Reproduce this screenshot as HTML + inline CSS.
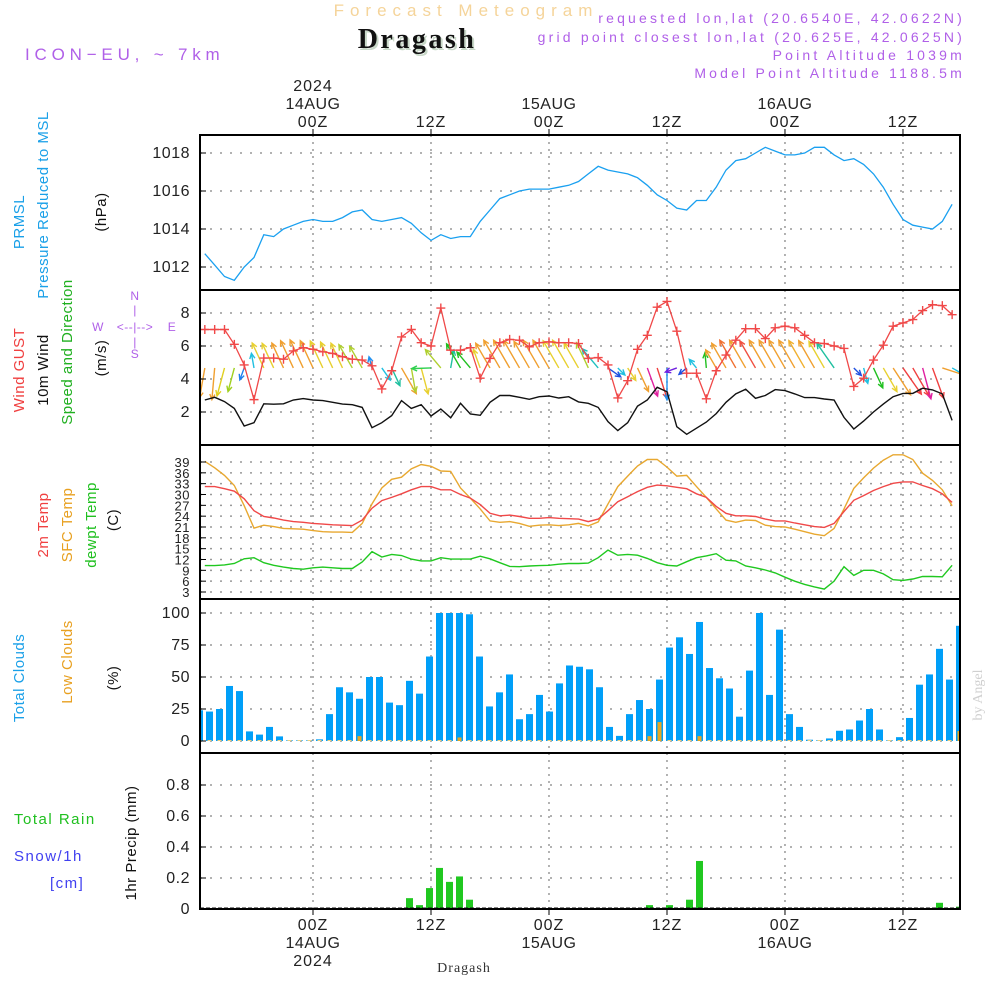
<!DOCTYPE html>
<html><head><meta charset="utf-8"><title>Meteogram Dragash</title>
<style>
html,body{margin:0;padding:0;background:#fff;}
svg{display:block;font-family:"Liberation Sans",sans-serif;}
</style></head>
<body>
<svg id="chart" xmlns="http://www.w3.org/2000/svg" width="1000" height="1000" viewBox="0 0 1000 1000">
<defs>
<clipPath id="c1"><rect x="200" y="135" width="760" height="155"/></clipPath>
<clipPath id="c2"><rect x="200" y="291" width="760" height="154"/></clipPath>
<clipPath id="c3"><rect x="200" y="446" width="760" height="153"/></clipPath>
<clipPath id="c4"><rect x="200" y="600" width="760" height="153"/></clipPath>
<clipPath id="c5"><rect x="200" y="754" width="760" height="155"/></clipPath>
</defs>
<g>
<text x="466" y="16" text-anchor="middle" font-size="17" letter-spacing="6" fill="#f5d49a">Forecast Meteogram</text>
<text x="419" y="50" text-anchor="middle" font-family="Liberation Serif,serif" font-weight="bold" font-size="28" letter-spacing="2.5" fill="#c8d8c8">Dragash</text>
<text x="417" y="48" text-anchor="middle" font-family="Liberation Serif,serif" font-weight="bold" font-size="28" letter-spacing="2.5" fill="#111">Dragash</text>
<text x="25" y="60" font-size="17" letter-spacing="4.8" fill="#b060e8">ICON−EU, ~ 7km</text>
<g font-size="14" letter-spacing="3.2" fill="#b060e8" text-anchor="end">
<text x="965" y="23">requested lon,lat (20.6540E, 42.0622N)</text>
<text x="965" y="42">grid point closest lon,lat (20.625E, 42.0625N)</text>
<text x="965" y="60">Point Altitude 1039m</text>
<text x="965" y="78">Model Point Altitude 1188.5m</text>
</g>
</g>
<g id="grid"></g>
<g id="series"></g>
<g id="axes"></g>
<g font-size="15" letter-spacing="0.5">
<text transform="translate(24,222) rotate(-90)" text-anchor="middle" fill="#1aa0e8">PRMSL</text>
<text transform="translate(48,205) rotate(-90)" text-anchor="middle" fill="#1aa0e8">Pressure Reduced to MSL</text>
<text transform="translate(106,212) rotate(-90)" text-anchor="middle" fill="#111">(hPa)</text>
<text transform="translate(24,370) rotate(-90)" text-anchor="middle" fill="#f04040">Wind GUST</text>
<text transform="translate(48,370) rotate(-90)" text-anchor="middle" fill="#111">10m Wind</text>
<text transform="translate(72,352) rotate(-90)" text-anchor="middle" fill="#20b020">Speed and Direction</text>
<text transform="translate(106,358) rotate(-90)" text-anchor="middle" fill="#111">(m/s)</text>
<g fill="#b060e8" font-size="12">
<text x="135" y="300" text-anchor="middle">N</text>
<text x="135" y="314" text-anchor="middle">|</text>
<text x="98" y="331" text-anchor="middle">W</text>
<text x="135" y="331" text-anchor="middle">&lt;--|--&gt;</text>
<text x="172" y="331" text-anchor="middle">E</text>
<text x="135" y="346" text-anchor="middle">|</text>
<text x="135" y="358" text-anchor="middle">S</text>
</g>
<text transform="translate(48,525) rotate(-90)" text-anchor="middle" fill="#f04040">2m Temp</text>
<text transform="translate(72,525) rotate(-90)" text-anchor="middle" fill="#e8a020">SFC Temp</text>
<text transform="translate(96,525) rotate(-90)" text-anchor="middle" fill="#20c020">dewpt Temp</text>
<text transform="translate(118,520) rotate(-90)" text-anchor="middle" fill="#111">(C)</text>
<text transform="translate(24,678) rotate(-90)" text-anchor="middle" fill="#1aa0e8">Total Clouds</text>
<text transform="translate(72,662) rotate(-90)" text-anchor="middle" fill="#e8a020">Low Clouds</text>
<text transform="translate(118,678) rotate(-90)" text-anchor="middle" fill="#111">(%)</text>
<text x="14" y="824" fill="#20c020" letter-spacing="1.5">Total  Rain</text>
<text x="14" y="861" fill="#4040f0" letter-spacing="1.5">Snow/1h</text>
<text x="50" y="888" fill="#4040f0" letter-spacing="1.5">[cm]</text>
<text transform="translate(136,843) rotate(-90)" text-anchor="middle" fill="#111">1hr Precip (mm)</text>
</g>
<text transform="translate(982,695) rotate(-90)" text-anchor="middle" font-family="Liberation Serif,serif" font-size="14" fill="#d0d0d0">by Angel</text>
<text x="464" y="972" text-anchor="middle" font-family="Liberation Serif,serif" font-size="14" letter-spacing="1" fill="#333">Dragash</text>
</svg>
<script>
const pressure=[1012.7,1012.1,1011.5,1011.3,1012,1012.5,1013.7,1013.6,1014.0,1014.2,1014.4,1014.5,1014.4,1014.4,1014.6,1014.9,1015.0,1014.5,1014.4,1014.5,1014.6,1014.3,1013.8,1013.4,1013.7,1013.5,1013.6,1013.6,1014.4,1015.0,1015.6,1015.8,1016.0,1016.1,1016.1,1016.1,1016.2,1016.3,1016.5,1016.9,1017.3,1017.1,1017.0,1016.9,1016.7,1016.3,1015.8,1015.5,1015.1,1015.0,1015.5,1015.5,1016.2,1017.1,1017.6,1017.7,1018.0,1018.3,1018.1,1017.9,1017.9,1018.0,1018.3,1018.3,1017.9,1017.6,1017.7,1017.4,1016.9,1016.2,1015.3,1014.5,1014.2,1014.1,1014.0,1014.4,1015.3];
const gust=[7.0,7.0,7.0,6.1,4.85,2.75,5.27,5.27,5.2,5.7,5.9,5.8,5.65,5.55,5.35,5.2,5.15,4.8,3.4,4.5,6.55,7.0,6.2,6.0,8.3,5.75,5.75,5.9,4.05,5.25,6.2,6.4,6.35,5.95,6.2,6.25,6.2,6.2,6.15,5.25,5.3,4.85,2.85,3.9,5.8,6.65,8.35,8.7,6.9,4.35,4.35,2.8,4.5,5.45,6.35,7.05,7.05,6.45,7.1,7.2,7.1,6.65,6.2,6.15,6.0,5.85,3.55,4.05,5.15,6.05,7.2,7.4,7.6,8.15,8.5,8.45,7.9];
const wind10=[2.73,2.89,2.63,2.22,1.15,1.35,2.5,2.47,2.5,2.73,2.81,2.73,2.69,2.59,2.48,2.44,2.28,1.05,1.35,1.78,2.69,2.22,2.44,1.76,2.18,1.65,2.53,1.88,1.8,2.59,3.0,3.0,2.89,2.77,2.93,2.97,2.85,2.93,2.61,2.53,2.28,1.41,0.87,1.35,2.36,2.73,3.5,3.23,1.11,0.65,1.02,1.39,1.9,2.59,3.1,3.38,2.83,3.0,3.36,3.3,3.1,2.87,2.87,2.79,2.73,1.67,0.97,1.45,2.0,2.48,2.93,3.13,3.13,3.44,3.34,3.1,1.49];
const windDir=[190,185,195,195,200,350,335,335,335,335,335,335,335,335,335,330,330,345,145,155,150,170,165,268,320,10,330,320,340,330,330,330,330,330,330,330,330,330,330,335,320,125,135,147,155,160,162,180,250,230,320,355,330,330,330,330,330,330,330,330,330,330,330,330,325,320,135,165,155,150,147,145,150,165,160,108,120];
const windCol=["#f0a030","#f0a030","#e0d020","#a0d020","#2080f0","#20c0e0","#e8d030","#e8d030","#f0a030","#f0a030","#f0a030","#f0a030","#e8d030","#e8d030","#e8d030","#b0d030","#b0d030","#2090f0","#20c0e0","#20c0a0","#f0a030","#b0d030","#e8d030","#30d050","#b0d030","#20c0a0","#20c020","#20c020","#e8d030","#f0a030","#f0a030","#f0a030","#f0a030","#f0a030","#f0a030","#f0a030","#e8d030","#e8d030","#e8d030","#b0d030","#20c0c0","#2050e0","#20c0e0","#e8d030","#f0a030","#e020a0","#f04040","#2090f0","#7020e0","#2050e0","#20c0e0","#20c020","#f0a030","#f0a030","#f07030","#f0a030","#f05040","#f0a030","#f0a030","#f0a030","#f0a030","#f0b030","#f0a030","#e8d030","#20c0a0","none","#2050e0","#20c0e0","#20c020","#e8d030","#f0a030","#f04040","#f04040","#e020a0","#f04040","#f0a030","#20c0e0"];
const t2m=[32.2,32.2,31.6,30.9,28.8,25.5,23.9,23.5,22.9,22.5,22.3,22.0,21.8,21.6,21.5,21.4,22.9,26.2,28.3,29.2,30.2,31.3,32.2,32.2,31.3,31.3,30.0,29.0,27.2,24.8,24.1,24.3,23.9,23.4,23.4,23.6,23.4,23.3,23.2,22.5,23.2,25.5,28.0,29.4,30.8,32.0,32.6,32.4,32.0,31.6,30.2,29.2,26.7,24.8,24.1,24.1,23.9,23.2,22.7,22.7,22.1,21.6,21.1,20.9,22.0,25.3,28.4,29.7,31.1,32.2,33.1,33.5,33.5,32.5,31.6,30.2,27.8];
const tsfc=[39.2,37.4,35.3,32.5,26.9,20.7,21.5,21.1,20.6,20.5,20.4,20.0,19.7,19.6,19.6,19.5,22.0,27.4,31.8,34.2,34.8,37.1,38.3,37.8,36.5,36.4,31.8,29.0,26.0,22.7,22.3,22.5,22.0,21.2,21.5,21.6,21.4,21.6,22.0,21.3,22.4,27.4,32.2,35.1,37.9,39.7,39.7,37.6,35.1,35.3,32.2,29.2,26.0,22.9,22.3,22.9,22.8,21.5,21.1,21.0,20.4,19.7,19.0,18.6,20.6,26.0,31.7,34.6,37.3,39.5,41.0,41.0,39.7,35.9,33.9,31.3,26.9];
const dewpt=[10.3,10.3,10.5,10.9,12.2,12.5,11.1,10.4,9.9,9.5,9.3,9.7,9.9,9.7,9.5,9.5,11.3,14.2,12.7,13.4,13.1,12.1,11.6,11.6,12.5,12.1,12.1,12.1,12.9,12.2,11.1,10.1,10.0,10.2,10.3,10.4,10.7,10.9,10.9,11.0,12.5,14.6,13.2,13.4,13.2,12.3,11.1,10.4,10.2,11.4,12.5,13.0,13.6,11.8,11.6,10.2,9.7,9.1,8.3,7.1,6.0,5.1,4.4,3.8,6.0,10.0,7.6,9.0,9.0,8.0,6.4,6.2,6.6,7.3,7.3,7.2,10.4];
const totalClouds=[24,23,25,43,39,7.5,5,11,3.6,0.5,0.5,0.5,1.3,21,42,38,33,50,50,30,28,47,37,66,100,100,100,99,66,27,38,52,17,21,36,23,45,59,58,56,42,11,4,21,32,25,48,73,81,68,93,57,49,41,19,55,100,36,87,21,11,1,0.5,2,8,9,16,25,9,0.5,3,18,44,52,72,48,90];
const lowClouds=[0,0,0,0,0,0,0,0,0,0,0,0,0,0,0,0,3,0,0,0,0,0,0,0,0,0,2,0,0,0,0,0,0,0,0,0,0,0,0,0,0,0,0,0,0,3,14,0,0,0,3,0,0,0,0,0,0,0,0,0,0,0,0,0,0,0,0,0,0,0,0,0,0,0,0,0,7];
const precip=[0,0,0,0,0,0,0,0,0,0,0,0,0,0,0,0,0,0,0,0,0,0.07,0.025,0.135,0.265,0.175,0.21,0.06,0,0,0,0,0,0,0,0,0,0,0,0,0,0,0,0,0,0.025,0,0.025,0,0.06,0.31,0,0,0,0,0,0,0,0,0,0,0,0,0,0,0,0,0,0,0,0,0,0,0,0.04,0,0.015];
const pTicks=[1012,1014,1016,1018];
const wTicks=[2,4,6,8];
const tTicks=[3,6,9,12,15,18,21,24,27,30,33,36,39];
const cTicks=[0,25,50,75,100];
const rTicks=[0,0.2,0.4,0.6,0.8];
const timeTicks=[0,12,24,36,48,60];
const timeLabels=["00Z","12Z","00Z","12Z","00Z","12Z"];
const dayLabels=["14AUG","","15AUG","","16AUG",""];

const NS="http://www.w3.org/2000/svg";
const svg=document.getElementById('chart');
const G=document.getElementById('grid'),S=document.getElementById('series'),A=document.getElementById('axes');
function el(tag,attrs,parent){const e=document.createElementNS(NS,tag);for(const k in attrs)e.setAttribute(k,attrs[k]);(parent||svg).appendChild(e);return e;}
function xT(i){return 313+(i-11)*9.833;}
function xTick(h){return 313+h*9.833;}
function xBar(j){return 199.5+10*j;}
function yP(v){return 153+(1018-v)*19;}
function yW(v){return 445-v*16.5;}
function yT(v){return 462+(39-v)*3.611;}
function yC(v){return 741-v*1.28;}
function yR(v){return 909-v*155;}
const panels=[[135,290],[290,445],[445,599],[599,753],[753,909]];

panels.forEach((p,k)=>{
  timeTicks.forEach(h=>{
    const g=el('line',{x1:xTick(h),x2:xTick(h),y1:p[0],y2:p[1],stroke:'#999','stroke-width':1.5,'stroke-dasharray':'2,5'},G);
    
    
  });
});
function hgrid(ticks,yf,lblName,fmt,fs){
  ticks.forEach(t=>{
    const g=el('line',{x1:200,x2:960,y1:yf(t),y2:yf(t),stroke:'#999','stroke-width':1.5,'stroke-dasharray':'2,8'},G);
    
    
    const l=el('text',{x:190,y:yf(t)+5,'text-anchor':'end','font-size':fs,fill:'#222','letter-spacing':'0.5'},A);
    l.textContent=fmt(t);
    
    
    const tk=el('line',{x1:200,x2:206,y1:yf(t),y2:yf(t),stroke:'#000','stroke-width':1},A);
    
    
  });
}
hgrid(pTicks,yP,'pressure-tick-label',t=>t,16);
hgrid(wTicks,yW,'wind-tick-label',t=>t,16);
hgrid(tTicks,yT,'temp-tick-label',t=>t,13);
hgrid(cTicks,yC,'cloud-tick-label',t=>t,16);
hgrid(rTicks,yR,'precip-tick-label',t=>t,16);

let d=pressure.map((v,i)=>(i?'L':'M')+xT(i).toFixed(1)+','+yP(v).toFixed(1)).join('');
let e=el('path',{d:d,fill:'none',stroke:'#1aa0f0','stroke-width':1.3,'clip-path':'url(#c1)'},S);



const wg=el('g',{'clip-path':'url(#c2)'},S);
windDir.forEach((a,i)=>{
  if(windCol[i]==='none')return;
  const L=Math.max(10,Math.min(32,wind10[i]*11));
  const x0=xT(i),y0=yW(4.67);
  const r=a*Math.PI/180;
  const x1=x0+L*Math.sin(r),y1=y0-L*Math.cos(r);
  const h1=r+Math.PI-0.45,h2=r+Math.PI+0.45;
  const ar=el('path',{d:`M${x0},${y0}L${x1},${y1}M${x1+6*Math.sin(h1)},${y1-6*Math.cos(h1)}L${x1},${y1}L${x1+6*Math.sin(h2)},${y1-6*Math.cos(h2)}`,stroke:windCol[i],'stroke-width':1.4,fill:'none'},wg);
  
  
});
d=gust.map((v,i)=>(i?'L':'M')+xT(i).toFixed(1)+','+yW(v).toFixed(1)).join('');
e=el('path',{d:d,fill:'none',stroke:'#f04848','stroke-width':1.3,'clip-path':'url(#c2)'},S);


gust.forEach((v,i)=>{
  const x=xT(i),y=yW(v);
  const m=el('path',{d:`M${x-4.5},${y}H${x+4.5}M${x},${y-4.5}V${y+4.5}`,stroke:'#f04848','stroke-width':1.4,'clip-path':'url(#c2)'},S);
  
  
});
d=wind10.map((v,i)=>(i?'L':'M')+xT(i).toFixed(1)+','+yW(v).toFixed(1)).join('');
e=el('path',{d:d,fill:'none',stroke:'#111','stroke-width':1.4,'clip-path':'url(#c2)'},S);



[[tsfc,'#e8a830','sfc-temp-line'],[t2m,'#f04848','t2m-line'],[dewpt,'#20c820','dewpt-line']].forEach(s=>{
  const dd=s[0].map((v,i)=>(i?'L':'M')+xT(i).toFixed(1)+','+yT(v).toFixed(1)).join('');
  const p=el('path',{d:dd,fill:'none',stroke:s[1],'stroke-width':1.4,'clip-path':'url(#c3)'},S);
  
  
});

totalClouds.forEach((v,j)=>{
  const b=el('rect',{x:xBar(j)-3.5,y:yC(v),width:7,height:Math.max(0.5,yC(0)-yC(v)),fill:'#009ff8','clip-path':'url(#c4)'},S);
  
  
});
lowClouds.forEach((v,j)=>{
  const b=el('rect',{x:xBar(j)-2,y:yC(v)-1,width:4,height:Math.max(1,yC(0)-yC(v)+1),fill:v>0?'#e8a820':'#f0d080','clip-path':'url(#c4)'},S);
  
  
});
precip.forEach((v,j)=>{
  if(v<=0)return;
  const b=el('rect',{x:xBar(j)-3.5,y:yR(v),width:7,height:yR(0)-yR(v),fill:'#20c820','clip-path':'url(#c5)'},S);
  
  
});
e=el('line',{x1:200,x2:960,y1:yR(0)-1,y2:yR(0)-1,stroke:'#111','stroke-width':1,'stroke-dasharray':'4,2'},S);



panels.forEach((p,k)=>{
  const r=el('rect',{x:200,y:p[0],width:760,height:p[1]-p[0],fill:'none',stroke:'#000','stroke-width':2},A);
  
  
});
timeTicks.forEach((h,k)=>{
  const x=xTick(h);
  const t1=el('line',{x1:x,x2:x,y1:129,y2:135,stroke:'#000'},A);
  
  
  const t2=el('line',{x1:x,x2:x,y1:909,y2:915,stroke:'#000'},A);
  
  
  const a=el('text',{x:x,y:127,'text-anchor':'middle','font-size':16,fill:'#222','letter-spacing':'1'},A);
  a.textContent=timeLabels[k];
  
  
  const b=el('text',{x:x,y:930,'text-anchor':'middle','font-size':16,fill:'#222','letter-spacing':'1'},A);
  b.textContent=timeLabels[k];
  
  
  if(dayLabels[k]){
    const c=el('text',{x:x,y:109,'text-anchor':'middle','font-size':16,fill:'#222','letter-spacing':'0.5'},A);
    c.textContent=dayLabels[k];
    
    
    const f=el('text',{x:x,y:948,'text-anchor':'middle','font-size':16,fill:'#222','letter-spacing':'0.5'},A);
    f.textContent=dayLabels[k];
    
    
  }
});
e=el('text',{x:xTick(0),y:91,'text-anchor':'middle','font-size':16,fill:'#222','letter-spacing':'1'},A);
e.textContent='2024';


e=el('text',{x:xTick(0),y:966,'text-anchor':'middle','font-size':16,fill:'#222','letter-spacing':'1'},A);
e.textContent='2024';


</script>
</body></html>
